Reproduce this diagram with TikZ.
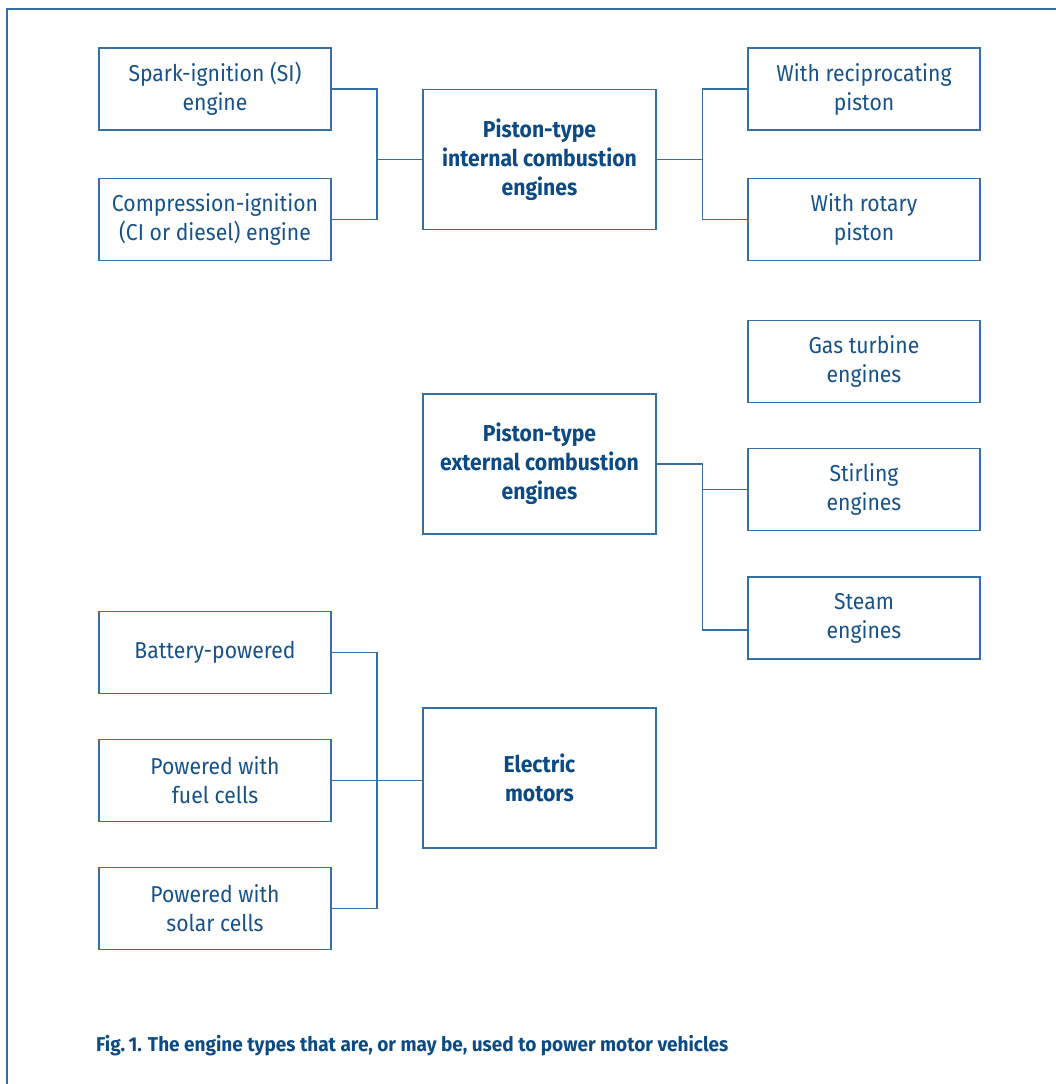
\documentclass[tikz,border=0pt]{standalone}
\usepackage{fontspec}
\setmainfont{Fira Sans}[FakeStretch=0.92]
\newfontfamily\capfont{Fira Sans}[FakeStretch=0.95]
\definecolor{linec}{RGB}{52,112,165}
\definecolor{textc}{RGB}{22,82,138}
\definecolor{boldc}{RGB}{12,74,132}
\begin{document}
\begin{tikzpicture}[x=1pt,y=-1pt,
  box/.style={draw=linec,line width=1.4pt,minimum width=232pt,align=center,text=textc,
    font=\fontsize{23}{29}\selectfont,inner sep=0pt},
  sbox/.style={box,minimum height=82pt},
  bbox/.style={box,minimum width=233pt,minimum height=140pt,text=boldc,
    font=\fontsize{23}{29}\selectfont\bfseries},
  conn/.style={draw=linec,line width=1.4pt}]
\useasboundingbox (0,0) rectangle (1056,1084);
\draw[linec,line width=2.2pt] (1056,9) -- (7,9) -- (7,1084);
% internal combustion
\node[sbox] (spark) at (215,89) {Spark-ignition (SI)\\engine};
\node[sbox] (comp) at (215,219.5) {Compression-ignition\\(CI or diesel) engine};
\node[bbox] (internal) at (539.5,159.5) {Piston-type\\internal combustion\\engines};
\node[sbox] (recip) at (864,89) {With reciprocating\\piston};
\node[sbox] (rotary) at (864,219.5) {With rotary\\piston};
\coordinate (j1) at (377,159.5);
\coordinate (j2) at (702.5,159.5);
\draw[conn] (spark.east) -| (j1) |- (comp.east);
\draw[conn] (j1) -- (internal.west);
\draw[conn] (internal.east) -- (j2);
\draw[conn] (recip.west) -| (j2) |- (rotary.west);
% external combustion
\node[sbox] (gas) at (864,361.5) {Gas turbine\\engines};
\node[bbox] (external) at (539.5,464) {Piston-type\\external combustion\\engines};
\node[sbox] (stirling) at (864,489.5) {Stirling\\engines};
\node[sbox] (steam) at (864,618) {Steam\\engines};
\coordinate (j3) at (702.5,630);
\draw[conn] (external.east) -| (j3) -- (steam.west |- j3);
\draw[conn] (stirling.west) -- (stirling.west -| j3);
% electric
\node[sbox] (battery) at (215,652.5) {Battery-powered};
\node[sbox] (fuel) at (215,780.5) {Powered with\\fuel cells};
\node[sbox] (solar) at (215,908.5) {Powered with\\solar cells};
\node[bbox] (electric) at (539.5,778) {Electric\\motors};
\coordinate (j4) at (377,780.5);
\draw[conn] (battery.east) -| (j4) |- (solar.east);
\draw[conn] (fuel.east) -- (electric.west |- fuel.east);
% caption
\node[anchor=west,inner sep=0pt,text=boldc,font=\capfont\fontsize{20}{24}\selectfont\bfseries] (caption) at (96,1046)
  {Fig.\,1. The engine types that are, or may be, used to power motor vehicles};
\end{tikzpicture}
\end{document}
